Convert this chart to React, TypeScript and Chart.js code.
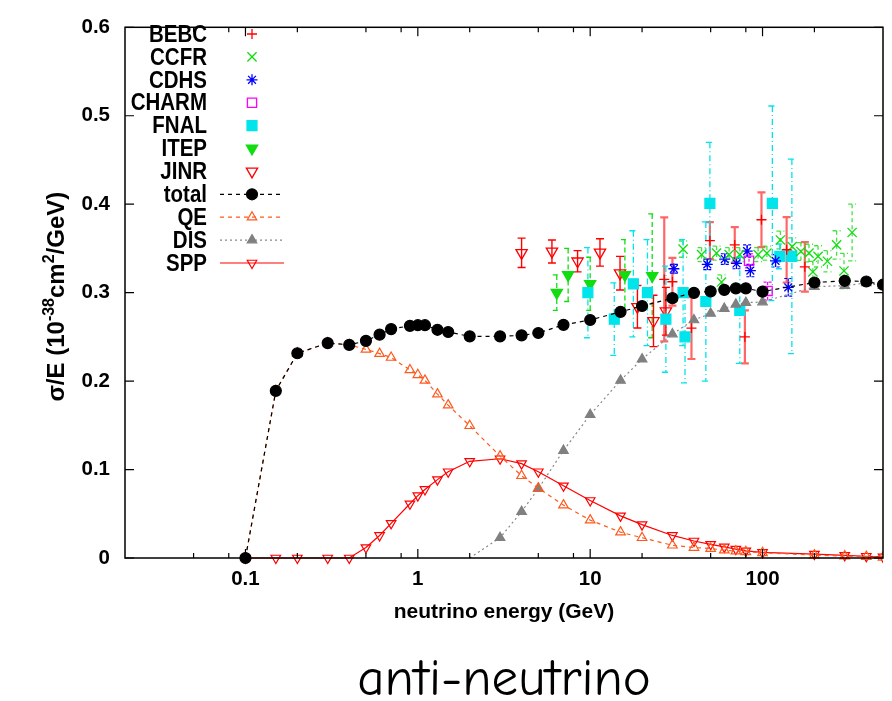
import React, { useEffect, useRef } from 'react';
import { Chart, registerables } from 'chart.js';
import { drawPoint } from 'chart.js/helpers';

Chart.register(...registerables);

// ---------- theory curves ----------
const theoryEnergies = [0.1, 0.15, 0.2, 0.3, 0.4, 0.5, 0.6, 0.7, 0.9, 1.0, 1.1, 1.3, 1.5, 2, 3, 4, 5, 7, 10, 15, 20, 30, 40, 50, 60, 70, 80, 100, 200, 300, 400, 500];
const totalValues = [0, 0.189, 0.2315, 0.243, 0.241, 0.2455, 0.2525, 0.2588, 0.2625, 0.2632, 0.2632, 0.258, 0.2555, 0.2506, 0.2506, 0.2517, 0.2544, 0.2636, 0.2691, 0.2783, 0.2849, 0.2938, 0.2998, 0.3015, 0.3031, 0.3049, 0.3049, 0.3012, 0.3115, 0.3134, 0.3126, 0.309];
const qeValues = [0, 0.189, 0.2315, 0.243, 0.241, 0.2359, 0.2311, 0.2267, 0.2126, 0.2071, 0.2008, 0.1853, 0.1728, 0.1495, 0.1152, 0.093, 0.079, 0.0598, 0.0428, 0.0292, 0.0229, 0.0144, 0.0118, 0.0107, 0.0089, 0.0078, 0.007, 0.0059, 0.0033, 0.0022, 0.0015, 0.0008];
const sppValues = [0, 0, 0, 0, 0, 0.0118, 0.0255, 0.0391, 0.0613, 0.0705, 0.0775, 0.0886, 0.0975, 0.1093, 0.1122, 0.1067, 0.0975, 0.0816, 0.065, 0.0476, 0.0377, 0.0255, 0.0192, 0.0155, 0.0125, 0.01, 0.0081, 0.0063, 0.0044, 0.003, 0.002, 0.0013];
const disEnergies = [2, 3, 4, 5, 7, 10, 15, 20, 30, 40, 50, 60, 70, 80, 100, 200, 300, 400, 500];
const disValues = [0, 0.0229, 0.0524, 0.0783, 0.1215, 0.162, 0.2008, 0.2248, 0.2532, 0.2691, 0.2765, 0.282, 0.2868, 0.2887, 0.2894, 0.3068, 0.3079, 0.3109, 0.3079];

// ---------- experimental data (energy, sigma/E, error) ----------
const bebcE = [26.9, 30, 38.7, 49.5, 69, 79, 98.6, 138, 176];
const bebcV = [0.315, 0.3123, 0.26, 0.3588, 0.354, 0.25, 0.3824, 0.3485, 0.3292];
const bebcErr = [0.07, 0.027, 0.035, 0.021, 0.02, 0.03, 0.031, 0.037, 0.028];

const ccfrE = [34.6, 44.3, 54.1, 57.8, 64, 73.8, 94.3, 106, 127, 148.6, 167, 186, 196, 210, 238, 269, 297, 331];
const ccfrV = [0.3492, 0.343, 0.3447, 0.312, 0.343, 0.343, 0.343, 0.3447, 0.3596, 0.352, 0.3466, 0.3447, 0.3234, 0.341, 0.3355, 0.354, 0.3245, 0.368];
const ccfrErr = [0.0092, 0.008, 0.008, 0.008, 0.008, 0.008, 0.008, 0.008, 0.01, 0.01, 0.01, 0.01, 0.012, 0.012, 0.012, 0.016, 0.02, 0.032];

const cdhsE = [30.6, 47.8, 60.4, 70.6, 81.4, 85, 119, 141];
const cdhsV = [0.327, 0.332, 0.338, 0.333, 0.347, 0.325, 0.336, 0.306];
const cdhsErr = [0.005, 0.006, 0.006, 0.006, 0.007, 0.007, 0.007, 0.01];

const charmE = [83.5, 107];
const charmV = [0.336, 0.302];
const charmErr = [0.008, 0.01];

const fnalE = [9.7, 13.8, 17.8, 21.5, 27.5, 34.6, 35.5, 46.9, 49.5, 73.8, 114, 126, 148];
const fnalV = [0.3, 0.27, 0.31, 0.3, 0.27, 0.3, 0.25, 0.29, 0.401, 0.28, 0.401, 0.341, 0.341];
const fnalErr = [0.051, 0.041, 0.06, 0.06, 0.06, 0.06, 0.052, 0.09, 0.069, 0.06, 0.11, 0.014, 0.11];

const itepE = [6.4, 7.45, 10, 15.9, 22.9];
const itepV = [0.3, 0.32, 0.31, 0.32, 0.319];
const itepErr = [0.02, 0.03, 0.03, 0.04, 0.07];

const jinrE = [4, 6, 8.45, 11.4, 14.9, 18.8, 23.3, 27.5];
const jinrV = [0.345, 0.3466, 0.3355, 0.3455, 0.322, 0.284, 0.268, 0.279];
const jinrErr = [0.0166, 0.013, 0.012, 0.0155, 0.019, 0.024, 0.029, 0.027];

// ---------- axes ----------
const xMin = 0.02;
const xMax = 500;
const xMajorTicks = [0.1, 1, 10, 100];
const xMinorTicks = [0.05, 0.08, 0.2, 0.5, 0.8, 2, 5, 8, 20, 50, 80, 200];
const yTicks = [0, 0.1, 0.2, 0.3, 0.4, 0.5, 0.6];
const yTickLabels = ['0', '0.1', '0.2', '0.3', '0.4', '0.5', '0.6'];
const yTitleParts = [
  { text: 'σ/E (10', sup: false },
  { text: '-38', sup: true },
  { text: 'cm', sup: false },
  { text: '2', sup: true },
  { text: '/GeV)', sup: false },
];

const pts = (xs: number[], ys: number[]) => xs.map((x, i) => ({ x, y: ys[i] }));

const FONT = "'Liberation Sans', Arial, Helvetica, sans-serif";

const errorBarPlugin = {
  id: 'errorBars',
  beforeDatasetsDraw(chart: any) {
    const { ctx, chartArea, scales } = chart;
    const xs = scales.x, ys = scales.y;
    ctx.save();
    ctx.beginPath();
    ctx.rect(chartArea.left, chartArea.top, chartArea.right - chartArea.left, chartArea.bottom - chartArea.top);
    ctx.clip();
    chart.data.datasets.forEach((ds: any) => {
      if (!ds.errors) return;
      ctx.strokeStyle = ds.errColor;
      ctx.lineWidth = ds.errWidth;
      ctx.setLineDash(ds.errDash || []);
      ds.data.forEach((p: any, i: number) => {
        const e = ds.errors[i];
        const px = xs.getPixelForValue(p.x);
        const yt = ys.getPixelForValue(p.y + e);
        const yb = ys.getPixelForValue(p.y - e);
        ctx.beginPath();
        ctx.moveTo(px, yt);
        ctx.lineTo(px, yb);
        ctx.moveTo(px - 4, yt);
        ctx.lineTo(px + 4, yt);
        ctx.moveTo(px - 4, yb);
        ctx.lineTo(px + 4, yb);
        ctx.stroke();
      });
    });
    ctx.restore();
  },
};

const framePlugin = {
  id: 'frame',
  afterDraw(chart: any) {
    const { ctx, chartArea, scales } = chart;
    const { left, right, top, bottom } = chartArea;
    ctx.save();
    ctx.strokeStyle = '#000';
    ctx.lineWidth = 1.5;
    ctx.setLineDash([]);
    ctx.strokeRect(left, top, right - left, bottom - top);
    ctx.lineWidth = 1.2;
    ctx.beginPath();
    xMajorTicks.forEach((v) => {
      const px = scales.x.getPixelForValue(v);
      ctx.moveTo(px, bottom); ctx.lineTo(px, bottom - 9);
      ctx.moveTo(px, top); ctx.lineTo(px, top + 9);
    });
    xMinorTicks.forEach((v) => {
      const px = scales.x.getPixelForValue(v);
      ctx.moveTo(px, bottom); ctx.lineTo(px, bottom - 5);
      ctx.moveTo(px, top); ctx.lineTo(px, top + 5);
    });
    yTicks.forEach((v) => {
      const py = scales.y.getPixelForValue(v);
      ctx.moveTo(left, py); ctx.lineTo(left + 9, py);
      ctx.moveTo(right, py); ctx.lineTo(right - 9, py);
    });
    ctx.stroke();

    // y-axis title with superscripts
    const mainFont = `bold 24px ${FONT}`;
    const supFont = `bold 16px ${FONT}`;
    let total = 0;
    yTitleParts.forEach((p) => { ctx.font = p.sup ? supFont : mainFont; total += ctx.measureText(p.text).width; });
    ctx.save();
    ctx.translate(55, (top + bottom) / 2 + 4);
    ctx.rotate(-Math.PI / 2);
    ctx.fillStyle = '#000';
    ctx.textAlign = 'left';
    ctx.textBaseline = 'alphabetic';
    let cx = -total / 2;
    yTitleParts.forEach((p) => {
      ctx.font = p.sup ? supFont : mainFont;
      ctx.fillText(p.text, cx, p.sup ? -1 : 9);
      cx += ctx.measureText(p.text).width;
    });
    ctx.restore();

    // legend
    const textRight = 207;
    const sampleX = 252;
    const lineL = 220, lineR = 284;
    const y0 = 34, step = 22.9;
    chart.data.datasets.forEach((ds: any, i: number) => {
      const y = y0 + i * step;
      ctx.save();
      ctx.translate(textRight, y + 1);
      ctx.scale(1, 1.2);
      ctx.font = `bold 20.5px ${FONT}`;
      ctx.textAlign = 'right';
      ctx.textBaseline = 'middle';
      ctx.fillStyle = '#000';
      ctx.fillText(ds.label, 0, 0);
      ctx.restore();
      if (ds.showLine) {
        ctx.strokeStyle = ds.borderColor;
        ctx.lineWidth = ds.borderWidth;
        ctx.setLineDash(ds.borderDash || []);
        ctx.beginPath();
        ctx.moveTo(lineL, y);
        ctx.lineTo(lineR, y);
        ctx.stroke();
      }
      ctx.setLineDash([]);
      ctx.strokeStyle = ds.pointBorderColor || ds.borderColor;
      ctx.fillStyle = ds.pointBackgroundColor || ds.backgroundColor;
      ctx.lineWidth = ds.pointBorderWidth || 1.2;
      drawPoint(ctx, {
        pointStyle: ds.pointStyle,
        rotation: ds.pointRotation || 0,
        radius: ds.legendRadius,
        borderWidth: ds.pointBorderWidth || 1.2,
      } as any, sampleX, y);
    });
    ctx.restore();
  },
};

function expSet(label: string, xs: number[], ys: number[], errs: number[], o: any) {
  return {
    label,
    data: pts(xs, ys),
    errors: errs,
    showLine: false,
    order: 2,
    clip: { left: 8, top: 0, right: 0, bottom: 8 },
    pointBorderWidth: 1.3,
    ...o,
  };
}

function theorySet(label: string, xs: number[], ys: number[], o: any) {
  return {
    label,
    data: pts(xs, ys),
    showLine: true,
    order: 1,
    borderWidth: 1.2,
    pointBorderWidth: 1.2,
    clip: { left: 8, top: 0, right: 0, bottom: 8 },
    ...o,
  };
}

export default function App() {
  const canvasRef = useRef<HTMLCanvasElement | null>(null);

  useEffect(() => {
    if (!canvasRef.current) return;
    const red = '#ff0000';
    const green = '#11dd11';
    const cyan = '#00e4ec';
    const datasets: any[] = [
      expSet('BEBC', bebcE, bebcV, bebcErr, {
        pointStyle: 'cross', pointRadius: 5, legendRadius: 5,
        borderColor: red, backgroundColor: red, pointBorderColor: red, pointBackgroundColor: red,
        errColor: 'rgba(255,0,0,0.6)', errWidth: 2.2, errDash: [],
      }),
      expSet('CCFR', ccfrE, ccfrV, ccfrErr, {
        pointStyle: 'crossRot', pointRadius: 6.5, legendRadius: 6.5,
        borderColor: green, backgroundColor: green, pointBorderColor: green, pointBackgroundColor: green,
        errColor: 'rgba(17,221,17,0.8)', errWidth: 1.3, errDash: [4, 3],
      }),
      expSet('CDHS', cdhsE, cdhsV, cdhsErr, {
        pointStyle: 'star', pointRadius: 5.5, legendRadius: 5.5,
        borderColor: '#0000ff', backgroundColor: '#0000ff', pointBorderColor: '#0000ff', pointBackgroundColor: '#0000ff',
        errColor: '#0000ff', errWidth: 1.2, errDash: [3, 2],
      }),
      expSet('CHARM', charmE, charmV, charmErr, {
        pointStyle: 'rect', pointRadius: 6.5, legendRadius: 6.5,
        borderColor: '#ff00ff', backgroundColor: 'rgba(0,0,0,0)', pointBorderColor: '#ff00ff', pointBackgroundColor: 'rgba(0,0,0,0)',
        errColor: '#ff00ff', errWidth: 1.2, errDash: [3, 2],
      }),
      expSet('FNAL', fnalE, fnalV, fnalErr, {
        pointStyle: 'rect', pointRadius: 7, legendRadius: 7,
        borderColor: cyan, backgroundColor: cyan, pointBorderColor: cyan, pointBackgroundColor: cyan,
        errColor: cyan, errWidth: 1.3, errDash: [6, 3, 1, 3],
      }),
      expSet('ITEP', itepE, itepV, itepErr, {
        pointStyle: 'triangle', pointRotation: 180, pointRadius: 6.5, legendRadius: 6.5,
        borderColor: green, backgroundColor: green, pointBorderColor: green, pointBackgroundColor: green,
        errColor: green, errWidth: 1.3, errDash: [5, 3],
      }),
      expSet('JINR', jinrE, jinrV, jinrErr, {
        pointStyle: 'triangle', pointRotation: 180, pointRadius: 6.5, legendRadius: 6.5,
        borderColor: red, backgroundColor: 'rgba(0,0,0,0)', pointBorderColor: red, pointBackgroundColor: 'rgba(0,0,0,0)',
        errColor: red, errWidth: 1.4, errDash: [],
      }),
      theorySet('total', theoryEnergies, totalValues, {
        pointStyle: 'circle', pointRadius: 5.5, legendRadius: 5.5,
        borderColor: '#000', backgroundColor: '#000', pointBorderColor: '#000', pointBackgroundColor: '#000',
        borderDash: [4, 4],
      }),
      theorySet('QE', theoryEnergies, qeValues, {
        pointStyle: 'triangle', pointRadius: 5.5, legendRadius: 5.5,
        borderColor: '#ff5a1e', backgroundColor: 'rgba(0,0,0,0)', pointBorderColor: '#ff5a1e', pointBackgroundColor: 'rgba(0,0,0,0)',
        borderDash: [4, 4],
      }),
      theorySet('DIS', disEnergies, disValues, {
        pointStyle: 'triangle', pointRadius: disEnergies.map((_, i) => (i === 0 ? 0 : 5.5)), legendRadius: 5.5,
        borderColor: '#888888', backgroundColor: '#808080', pointBorderColor: '#808080', pointBackgroundColor: '#808080',
        borderDash: [2, 3],
      }),
      theorySet('SPP', theoryEnergies, sppValues, {
        pointStyle: 'triangle', pointRotation: 180, pointRadius: 5.5, legendRadius: 5.5,
        borderColor: red, backgroundColor: 'rgba(0,0,0,0)', pointBorderColor: red, pointBackgroundColor: 'rgba(0,0,0,0)',
        borderDash: [],
      }),
    ];

    const chart = new Chart(canvasRef.current, {
      type: 'scatter',
      data: { datasets },
      plugins: [errorBarPlugin, framePlugin],
      options: {
        responsive: false,
        animation: false,
        events: [],
        layout: { padding: { top: 16, right: 9, left: 0, bottom: 0 } },
        plugins: {
          legend: { display: false },
          tooltip: { enabled: false },
          title: {
            display: true,
            position: 'bottom',
            fullSize: false,
            text: 'anti-neutrino',
            color: '#000',
            font: { family: "'Comic Sans MS', 'Comic Neue', 'DejaVu Sans', sans-serif", size: 53, weight: 'normal', lineHeight: 0.8 },
            padding: { top: 0, bottom: 0 },
          },
        },
        scales: {
          x: {
            type: 'logarithmic',
            min: xMin,
            max: xMax,
            afterBuildTicks: (scale: any) => { scale.ticks = xMajorTicks.map((v) => ({ value: v, major: true })); },
            afterFit: (scale: any) => { scale.height = 100.6; },
            ticks: {
              autoSkip: false,
              maxRotation: 0,
              padding: 9,
              color: '#000',
              font: { family: FONT, size: 20.5, weight: 'bold' },
              callback: (v: any) => String(v),
            },
            grid: { display: false, drawTicks: false },
            border: { display: false },
            title: {
              display: true,
              text: 'neutrino energy (GeV)',
              color: '#000',
              font: { family: FONT, size: 21, weight: 'bold' },
              padding: { top: 0, bottom: 34 },
            },
          },
          y: {
            type: 'linear',
            min: 0,
            max: 0.6,
            afterBuildTicks: (scale: any) => { scale.ticks = yTicks.map((v) => ({ value: v })); },
            afterFit: (scale: any) => { scale.width = 125; },
            ticks: {
              padding: 15,
              color: '#000',
              font: { family: FONT, size: 20.5, weight: 'bold' },
              callback: (v: any) => { const i = yTicks.indexOf(Number(v)); return i >= 0 ? yTickLabels[i] : ''; },
            },
            grid: { display: false, drawTicks: false },
            border: { display: false },
            title: { display: false },
          },
        },
      } as any,
    });
    return () => chart.destroy();
  }, []);

  return (
    <div style={{ position: 'absolute', left: 0, top: 0, width: 892, height: 701, background: '#fff' }}>
      <canvas ref={canvasRef} width={892} height={701} style={{ display: 'block' }} />
    </div>
  );
}
